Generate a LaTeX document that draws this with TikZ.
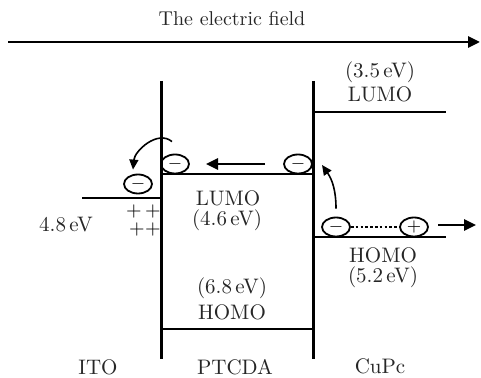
\documentclass[tikz,border=0pt]{standalone}
\usetikzlibrary{arrows.meta, shapes.geometric}
\begin{document}
\begin{tikzpicture}[x=0.5pt, y=-0.5pt,
        wall/.style={line width=1.5pt},
        level/.style={line width=1.3pt},
        charge/.style={draw, ellipse, line width=0.9pt, minimum width=14pt, minimum height=9.5pt, inner sep=0pt, font=\small},
        lbl/.style={font=\fontsize{10.5}{12}\selectfont, text=black!85, inner sep=1pt},
        hole/.style={font=\normalsize, inner sep=0pt},
        arrow/.style={-{Triangle[length=6pt, width=5.5pt]}, line width=1.3pt},
        curvearrow/.style={-{Triangle[length=5pt, width=4.5pt]}, line width=0.8pt}
    ]
        \useasboundingbox (0,0) rectangle (481,378);

        % --- Electric field ---
        \node[lbl, font=\normalsize] (field) at (232,19) {The electric field};
        \coordinate (fieldS) at (8,42);
        \coordinate (fieldE) at (480,42);
        \draw[arrow, line width=1.4pt] (fieldS) -- (fieldE);

        % --- Interfaces ---
        \draw[wall] (161,81) -- (161,359);
        \draw[wall] (313,81) -- (313,359);

        % --- Energy levels ---
        \draw[level] (82,198) -- (161,198);
        \draw[level] (161,174) -- (313,174);
        \draw[level] (161,329) -- (313,329);
        \draw[level] (313,112) -- (446,112);
        \draw[level] (313,237) -- (446,237);

        % --- Level labels ---
        \node[lbl] (cuLumoE) at (380,72) {(3.5\,eV)};
        \node[lbl] (cuLumo) at (380,94) {LUMO};
        \node[lbl] (ptLumo) at (228,198) {LUMO};
        \node[lbl] (ptLumoE) at (227,220) {(4.6\,eV)};
        \node[lbl] (ptHomoE) at (232,288) {(6.8\,eV)};
        \node[lbl] (ptHomo) at (232,312) {HOMO};
        \node[lbl] (cuHomo) at (383,255) {HOMO};
        \node[lbl] (cuHomoE) at (383,277) {(5.2\,eV)};
        \node[lbl] (itoE) at (66,225) {4.8\,eV};

        % --- Layer names ---
        \node[lbl, inner sep=0pt] (ito) at (98,367) {ITO};
        \node[lbl, inner sep=0pt] (ptcda) at (235,367) {PTCDA};
        \node[lbl, inner sep=0pt] (cupc) at (380,366) {CuPc};

        % --- Charges ---
        \node[charge] (mL) at (175,164) {$-$};
        \node[charge] (mR) at (298,164) {$-$};
        \node[charge] (mITO) at (138,184) {$-$};
        \node[charge] (mH) at (336,227) {$-$};
        \node[charge] (pH) at (414,227) {$+$};

        % --- Holes at ITO ---
        \node[hole] (h1) at (134,212) {$+$};
        \node[hole] (h2) at (153,212) {$+$};
        \node[hole] (h3) at (137,230) {$+$};
        \node[hole] (h4) at (153,230) {$+$};

        % --- Transport arrows ---
        \draw[line width=1.3pt, dash pattern=on 1.3pt off 1.1pt] (mH.east) -- (pH.west);
        \coordinate (holeS) at (438,225);
        \coordinate (holeE) at (476,225);
        \draw[arrow] (holeS) -- (holeE);
        \coordinate (driftS) at (265,164);
        \coordinate (driftE) at (206,164);
        \draw[arrow] (driftS) -- (driftE);
        \coordinate (tipR) at (322,165);
        \draw[curvearrow] ([yshift=4pt]mH.north) to[out=90, in=-55] (tipR);
        \draw[curvearrow] ([shift={(-1.5pt,6pt)}]mL.north) to[out=140, in=85] ([shift={(-2.5pt,2pt)}]mITO.north);

    \end{tikzpicture}
\end{document}
